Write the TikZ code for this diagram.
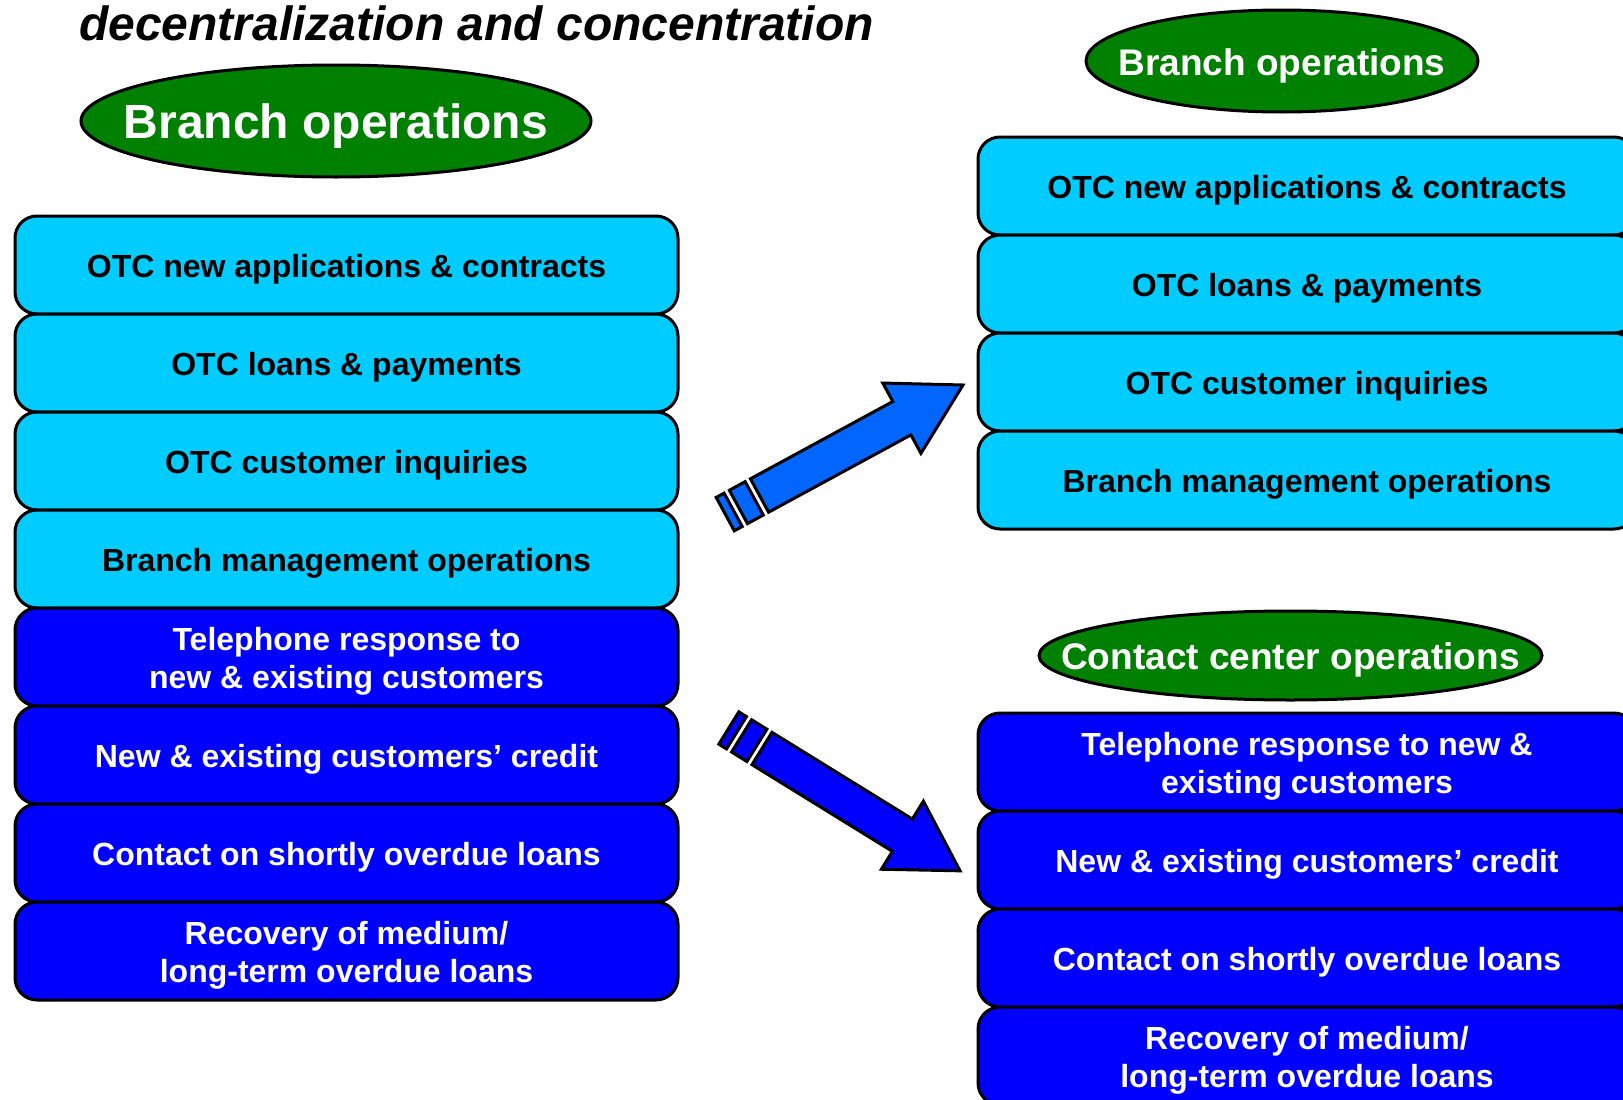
\documentclass[tikz,border=0pt]{standalone}
\usepackage{fontspec}
\setmainfont{Liberation Sans}
\usetikzlibrary{shapes.geometric}
\definecolor{cyanbox}{HTML}{00CCFF}
\definecolor{bluebox}{HTML}{0000FF}
\definecolor{greenell}{HTML}{008000}
\definecolor{arrowup}{HTML}{0066FF}
\definecolor{arrowdn}{HTML}{0000FF}
\begin{document}
\begin{tikzpicture}[x=1pt,y=-1pt,
  rowbox/.style={draw=black, line width=3pt, rounded corners=22pt, minimum height=98pt,
    inner sep=0pt},
  lrow/.style={rowbox, minimum width=663pt},
  rrow/.style={rowbox, minimum width=658pt},
  cyanrow/.style={fill=cyanbox},
  bluerow/.style={fill=bluebox},
  rowtext/.style={inner sep=0pt, align=center, font=\fontsize{32}{38}\selectfont\bfseries},
  oval/.style={ellipse, draw=black, line width=3pt, fill=greenell, inner sep=0pt},
  ovaltext/.style={inner sep=0pt, text=white},
  blockarrow/.style={draw=black, line width=3pt, line join=miter}
]
\useasboundingbox (0,0) rectangle (1623,1100);
\clip (0,0) rectangle (1623,1100);

% title
\node[anchor=base west, inner sep=0pt, font=\fontsize{48}{58}\selectfont\bfseries\itshape] (title) at (79,40) {decentralization and concentration};

% left ellipse
\node[oval, minimum width=510pt, minimum height=112pt] (lbranch) at (336,121) {};
\node[ovaltext, font=\fontsize{48}{56}\selectfont\bfseries] (lbrancht) at ([yshift=-5pt]lbranch.center) {Branch operations};

% left column
\node[lrow, cyanrow] (l1) at (346.5,265) {};
\node[lrow, cyanrow] (l2) at (346.5,363) {};
\node[lrow, cyanrow] (l3) at (346.5,461) {};
\node[lrow, cyanrow] (l4) at (346.5,559) {};
\node[lrow, bluerow] (l5) at (346.5,657) {};
\node[lrow, bluerow] (l6) at (346.5,755) {};
\node[lrow, bluerow] (l7) at (346.5,853) {};
\node[lrow, bluerow] (l8) at (346.5,951) {};
\node[rowtext, text=black] (l1t) at ([yshift=-4.5pt]l1.center) {OTC new applications \& contracts};
\node[rowtext, text=black] (l2t) at ([yshift=-4.5pt]l2.center) {OTC loans \& payments};
\node[rowtext, text=black] (l3t) at ([yshift=-4.5pt]l3.center) {OTC customer inquiries};
\node[rowtext, text=black] (l4t) at ([yshift=-4.5pt]l4.center) {Branch management operations};
\node[rowtext, text=white] (l5t) at ([yshift=-4.5pt]l5.center) {Telephone response to\\new \& existing customers};
\node[rowtext, text=white] (l6t) at ([yshift=-4.5pt]l6.center) {New \& existing customers’ credit};
\node[rowtext, text=white] (l7t) at ([yshift=-4.5pt]l7.center) {Contact on shortly overdue loans};
\node[rowtext, text=white] (l8t) at ([yshift=-4.5pt]l8.center) {Recovery of medium/\\long-term overdue loans};

% right top ellipse
\node[oval, minimum width=392pt, minimum height=102pt] (rbranch) at (1282,61) {};
\node[ovaltext, font=\fontsize{37}{44}\selectfont\bfseries] (rbrancht) at ([yshift=-4.5pt]rbranch.center) {Branch operations};

% right cyan column
\node[rrow, cyanrow] (r1) at (1307,186) {};
\node[rrow, cyanrow] (r2) at (1307,284) {};
\node[rrow, cyanrow] (r3) at (1307,382) {};
\node[rrow, cyanrow] (r4) at (1307,480) {};
\node[rowtext, text=black] (r1t) at ([yshift=-4.5pt]r1.center) {OTC new applications \& contracts};
\node[rowtext, text=black] (r2t) at ([yshift=-4.5pt]r2.center) {OTC loans \& payments};
\node[rowtext, text=black] (r3t) at ([yshift=-4.5pt]r3.center) {OTC customer inquiries};
\node[rowtext, text=black] (r4t) at ([yshift=-4.5pt]r4.center) {Branch management operations};

% contact center ellipse
\node[oval, minimum width=503pt, minimum height=89pt] (contact) at (1290.5,655.5) {};
\node[ovaltext, font=\fontsize{37}{44}\selectfont\bfseries] (contactt) at ([yshift=-4pt]contact.center) {Contact center operations};

% right blue column
\node[rrow, bluerow] (r5) at (1307,762) {};
\node[rrow, bluerow] (r6) at (1307,860) {};
\node[rrow, bluerow] (r7) at (1307,958) {};
\node[rrow, bluerow] (r8) at (1307,1056) {};
\node[rowtext, text=white] (r5t) at ([yshift=-4.5pt]r5.center) {Telephone response to new \&\\existing customers};
\node[rowtext, text=white] (r6t) at ([yshift=-4.5pt]r6.center) {New \& existing customers’ credit};
\node[rowtext, text=white] (r7t) at ([yshift=-4.5pt]r7.center) {Contact on shortly overdue loans};
\node[rowtext, text=white] (r8t) at ([yshift=-4.5pt]r8.center) {Recovery of medium/\\long-term overdue loans};

% upper block arrow
\coordinate (uptail) at (759.5,495.5);
\begin{scope}[shift={(uptail)}, rotate=28.5]
  \draw[blockarrow, fill=arrowup] (0,-19) -- (162,-19) -- (162,-40) -- (231.6,0) -- (162,40) -- (162,19) -- (0,19) -- cycle;
  \draw[blockarrow, fill=arrowup] (-24,-19) rectangle (-6,19);
  \draw[blockarrow, fill=arrowup] (-39,-19) rectangle (-30,19);
\end{scope}

% lower block arrow
\coordinate (dntail) at (762,748.5);
\begin{scope}[shift={(dntail)}, rotate=-31.7]
  \draw[blockarrow, fill=arrowdn] (0,-19) -- (165,-19) -- (165,-40) -- (232.8,0) -- (165,40) -- (165,19) -- (0,19) -- cycle;
  \draw[blockarrow, fill=arrowdn] (-24,-19) rectangle (-6,19);
  \draw[blockarrow, fill=arrowdn] (-39,-19) rectangle (-30,19);
\end{scope}
\end{tikzpicture}
\end{document}
